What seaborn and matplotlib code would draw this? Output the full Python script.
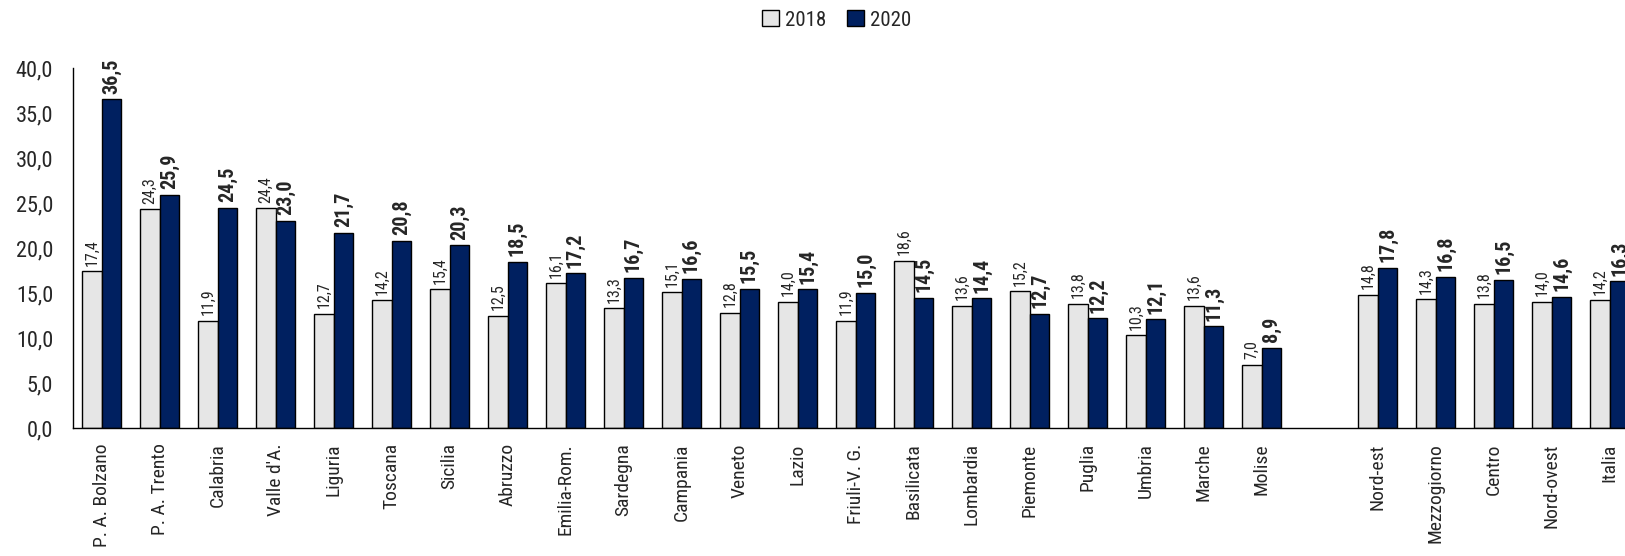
import numpy as np
import pandas as pd
import seaborn as sns
import matplotlib.pyplot as plt
from matplotlib.ticker import FuncFormatter

regioni = ['P. A. Bolzano', 'P. A. Trento', 'Calabria', "Valle d'A.", 'Liguria', 'Toscana',
           'Sicilia', 'Abruzzo', 'Emilia-Rom.', 'Sardegna', 'Campania', 'Veneto', 'Lazio',
           'Friuli-V. G.', 'Basilicata', 'Lombardia', 'Piemonte', 'Puglia', 'Umbria',
           'Marche', 'Molise', 'Nord-est', 'Mezzogiorno', 'Centro', 'Nord-ovest', 'Italia']
v2018 = [17.4, 24.3, 11.9, 24.4, 12.7, 14.2, 15.4, 12.5, 16.1, 13.3, 15.1, 12.8, 14.0,
         11.9, 18.6, 13.6, 15.2, 13.8, 10.3, 13.6, 7.0, 14.8, 14.3, 13.8, 14.0, 14.2]
v2020 = [36.5, 25.9, 24.5, 23.0, 21.7, 20.8, 20.3, 18.5, 17.2, 16.7, 16.6, 15.5, 15.4,
         15.0, 14.5, 14.4, 12.7, 12.2, 12.1, 11.3, 8.9, 17.8, 16.8, 16.5, 14.6, 16.3]
anni = ['2018', '2020']
colori = ['#E6E6E6', '#002060']

# blank slot between regions and macro areas
ordine = regioni[:21] + [' '] + regioni[21:]

df = pd.DataFrame({'area': regioni * 2,
                   'anno': [anni[0]] * len(regioni) + [anni[1]] * len(regioni),
                   'valore': v2018 + v2020})

sns.set_style('white')
plt.rcParams['font.family'] = ['Roboto Condensed', 'Liberation Sans', 'DejaVu Sans']

fig = plt.figure(figsize=(16.25, 5.56), dpi=100)
ax = fig.add_axes([0.0447, 0.2302, 0.9638, 0.6475])

sns.barplot(data=df, x='area', y='valore', hue='anno', order=ordine, hue_order=anni,
            palette=colori, saturation=1, width=0.67, edgecolor='black', linewidth=1,
            ax=ax)

fmt = lambda v: f'{v:.1f}'.replace('.', ',')
for cont, size, weight in zip(ax.containers, [11.5, 14.5], ['normal', 'bold']):
    ax.bar_label(cont, fmt=fmt, rotation=90, padding=4, fontsize=size,
                 fontweight=weight, clip_on=False)

ax.set_xlim(-0.5, 26.5)
ax.set_ylim(0, 40)
ax.set_yticks(np.arange(0, 41, 5))
ax.yaxis.set_major_formatter(FuncFormatter(lambda v, p: f'{v:.1f}'.replace('.', ',')))
ax.set_xticks(range(len(ordine)))
ax.set_xticklabels(ordine, rotation=90)
ax.set_xticks(np.arange(-0.5, 26.5, 1), minor=True)
ax.tick_params(axis='x', which='major', length=0, pad=11, labelsize=14)
ax.tick_params(axis='x', which='minor', length=5, width=1, color='black', direction='out')
ax.tick_params(axis='y', length=5, width=1, color='black', direction='out', labelsize=16,
               pad=9)
ax.set_xlabel('')
ax.set_ylabel('')
sns.despine(ax=ax)
for s in ['left', 'bottom']:
    ax.spines[s].set_color('black')
    ax.spines[s].set_linewidth(1)

handles, labels = ax.get_legend_handles_labels()
ax.get_legend().remove()
fig.legend(handles, labels, loc='center', bbox_to_anchor=(0.515, 0.964), ncol=2,
           frameon=False, fontsize=15, handlelength=0.8, handleheight=0.8,
           handletextpad=0.3, columnspacing=1.0)

fig.savefig('out.png', dpi=100)
